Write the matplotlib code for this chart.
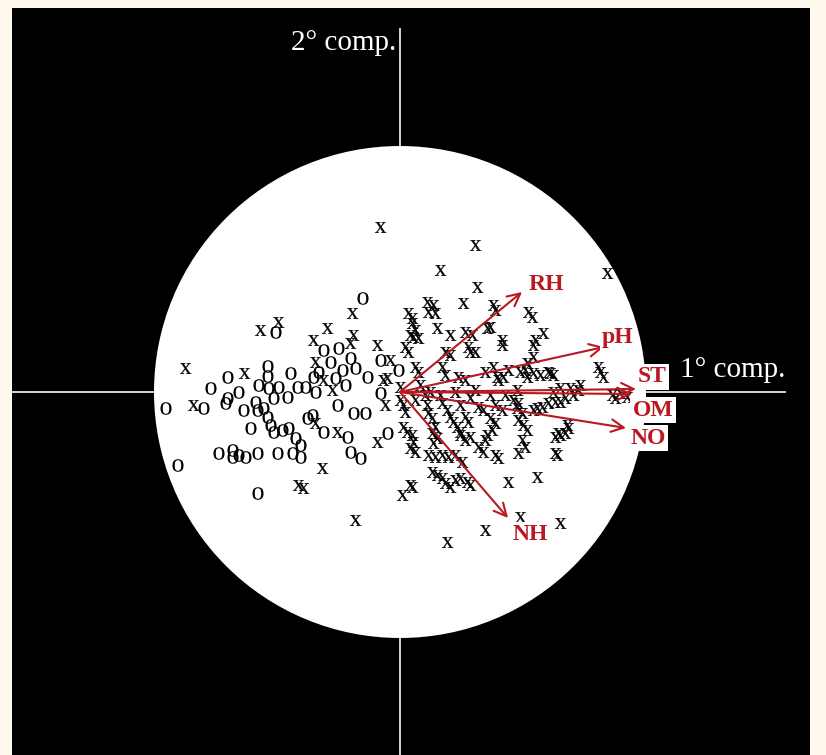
import matplotlib
import matplotlib.pyplot as plt
import numpy as np
from matplotlib.font_manager import FontProperties
from matplotlib.patches import Circle
from matplotlib.path import Path
from matplotlib.textpath import TextPath

matplotlib.rcParams['font.family'] = "Liberation Serif"

# scores of the observations on the first two components (circle radius = 246)
grp_o_x = [-173, -133, -133, -110, -190, -142, -132, -122, -113, -103, -162, -173, -175,
           -235, -197, -157, -145, -143, -137, -127, -133, -130, -127, -118, -112, -150,
           -105, -100, -100, -108, -123, -143, -155, -162, -168, -168, -182, -223, -143,
           -38, -125, -77, -62, -50, -20, -82, -70, -58, -33, -87, -20, -95, -85, -63,
           -47, -35, -88, -77, -53, -50, -40, -13, -2, -93, -65, -45, -55]
grp_o_y = [15, 26, 16, 19, 4, 7, 4, 5, -5, 5, 0, -6, -11,
           -16, -16, -18, -10, -18, -16, -6, -25, -33, -40, -38, -36, -36,
           -46, -53, -65, -61, -61, -61, -65, -63, -58, -65, -61, -73, -101,
           94, 60, 42, 44, 34, 32, 20, 30, 22, 15, 15, -1, 5, 0, -13,
           -21, -21, -23, -40, -45, -60, -66, -41, 22, -26, 14, 24, 7]

grp_x_x = [-215, -156, -207, -102, -97, -48, -140, -122, -73, -87, -47, -50, -23, -10,
           -85, -77, -17, -15, -68, -85, -63, -78, -23, -13, 0, 3, -20, -45,
           75, 40, 77, 207, 63, 27, 33, 28, 35, 8, 12, 15, 13, 10, 18, 37, 50, 65, 72,
           90, 93, 95, 102, 102, 68, 75, 45, 50, 5, 8, 15, 18, 42, 45, 58, 65, 93, 97,
           98, 85, 108, 12, 128, 132, 143, 133, 135, 87, 70, 133, 127, 103, 120, 127,
           140, 150, 125, 133, 148, 153, 198, 200, 203, 180, 170, 160, 153, 220, 227,
           117, 178, 173, 165, 160, 155, 148, 142, 137, 133, 212, 215, 122, 118, 123,
           127, 167, 158, 155, 122, 125, 118, 155, 157, 160, 165, 168,
           0, 5, 27, 28, 32, 42, 47, 50, 53, 57, 60, 65, 68, 78, 83, 95, 102, 90, 95,
           92, 87, 85, 113, 118, 117, 3, 7, 12, 13, 10, 15, 35, 32, 37, 33, 60, 65, 70,
           78, 83, 95, 98, 28, 35, 42, 48, 55, 62, 32, 37, 42, 45, 50, 55, 60, 67, 70,
           108, 137, 10, 2, 12, 120, 160, 85, 47,
           20, 30, 40, 55, 70, 60, 25, 75, 90, 105, 15]
grp_x_y = [24, 19, -13, -93, -96, 79, 62, 70, 64, 52, 57, 49, 47, 32,
           30, 12, 12, -13, 2, -31, -40, -76, -50, 14, 5, -13, 165, -128,
           147, 122, 105, 119, 89, 90, 87, 80, 79, 79, 69, 62, 55, 57, 54, 64, 57, 60, 57,
           65, 87, 82, 52, 47, 45, 40, 40, 37, 45, 40, 25, 20, 25, 17, 15, 12, 25, 15,
           12, 20, 22, 74, 80, 75, 59, 47, 52, 64, 40, 35, 29, 15, 20, 15,
           17, 19, 22, 19, 20, 17, 25, 20, 15, 7, 4, 4, 0, -1, -5,
           2, 2, -3, -6, -10, -10, -11, -15, -16, -18, -3, -6, -21, -28, -33,
           -38, -33, -41, -45, -48, -55, -61, -61, -63, -43, -41, -36,
           -8, -20, -13, -21, -26, -11, -18, -25, -30, -35, -40, -25, -30, -15, -18, -13, -18, -26, -31,
           -38, -43, -48, -8, -11, -16, -35, -40, -43, -50, -56, -60, -35, -41, -46, -51, -43, -48, -45,
           -55, -60, -63, -66, -63, -65, -63, -65, -63, -70, -80, -83, -86, -91, -95, -88, -86, -90, -93,
           -90, -85, -93, -103, -95, -125, -131, -138, -150,
           7, 0, -3, 0, -6, -13, -3, 2, -3, -3, -8]

# loadings of the soil variables (arrow tips)
variables = ['RH', 'pH', 'ST', 'OM', 'NO', 'NH']
load_x = [122, 204, 236, 232, 226, 108]
load_y = [100, 45, 3, -2, -36, -126]

RADIUS = 246
RED = '#b81922'


def glyph_marker(ch):
    # letter outline used as a scatter marker, centred on the point
    tp = TextPath((0, 0), ch, prop=FontProperties(family='Liberation Serif'))
    v = tp.vertices.copy()
    v -= (v.min(axis=0) + v.max(axis=0)) / 2
    return Path(v, tp.codes)


fig = plt.figure(figsize=(8.26, 7.55), dpi=100, facecolor='#fff8ec')
ax = fig.add_axes([12 / 826, 0, 798 / 826, 747 / 755])
ax.set_facecolor('black')
ax.set_xlim(-388, 410)
ax.set_ylim(-363, 384)
ax.set_xticks([])
ax.set_yticks([])
for s in ax.spines.values():
    s.set_visible(False)

# component axes
ax.plot([-388, 385], [0, 0], color='#e8e8e8', lw=1.3, zorder=1)
ax.plot([0, 0], [-363, 363], color='#e8e8e8', lw=1.3, zorder=1)
ax.add_patch(Circle((0, 0), RADIUS, facecolor='white', edgecolor='none', zorder=2))

ax.text(-4, 349, '2° comp.', color='white', fontsize=21, ha='right', va='center')
ax.text(280, 22, '1° comp.', color='white', fontsize=21, ha='left', va='center')

ax.scatter(grp_o_x, grp_o_y, marker=glyph_marker('o'), s=82, c='black',
           linewidths=0, zorder=3)
ax.scatter(grp_x_x, grp_x_y, marker=glyph_marker('x'), s=68, c='black',
           edgecolors='black', linewidths=0.15, zorder=3)

# label placement relative to arrow tip
lab_dx = [24, 14, 16, 21, 22, 22]
lab_dy = [8, 9, 12, -16, -10, -17]

for name, lx, ly, dx, dy in zip(variables, load_x, load_y, lab_dx, lab_dy):
    ax.annotate('', xy=(lx, ly), xytext=(0, 0),
                arrowprops=dict(arrowstyle='->,head_length=0.9,head_width=0.45',
                                color=RED, lw=1.5, shrinkA=0, shrinkB=0), zorder=4)
    ax.text(lx + dx, ly + dy, name, color=RED, fontsize=17, fontweight='bold',
            ha='center', va='center', zorder=5,
            bbox=dict(boxstyle='square,pad=0.1', fc='white', ec='none'))

plt.savefig('out.png', dpi=100, facecolor=fig.get_facecolor())
